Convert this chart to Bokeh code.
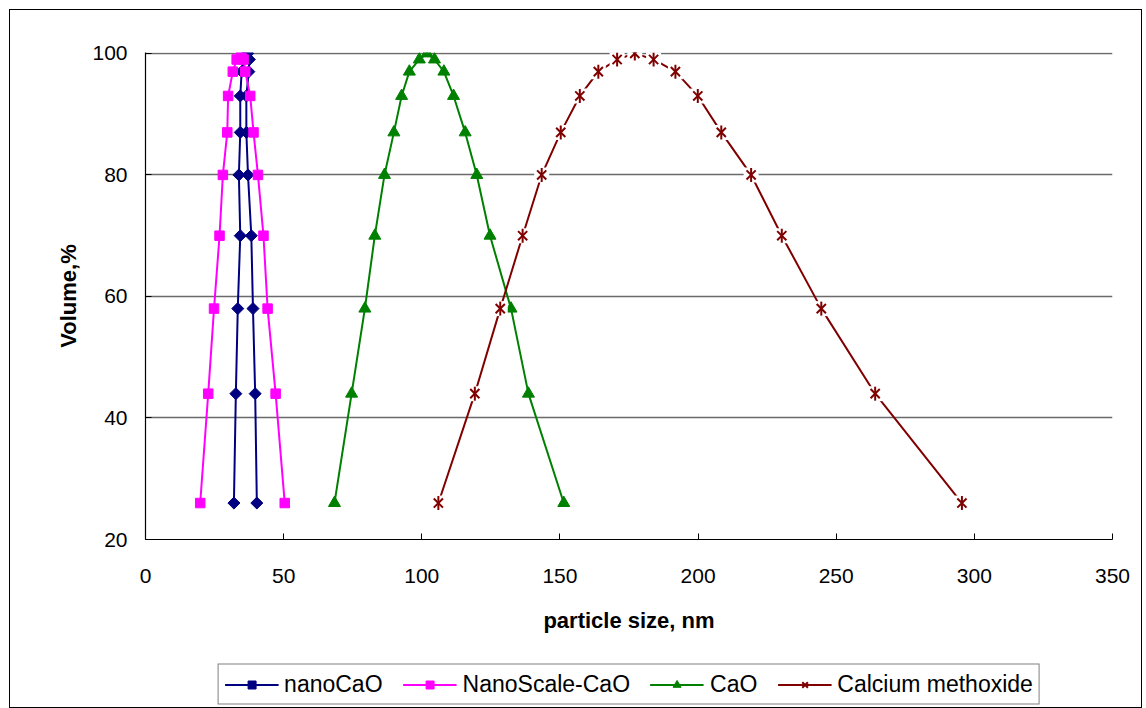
import math
from bokeh.plotting import figure
from bokeh.layouts import column
from bokeh.models import Legend, LegendItem, FixedTicker, Range1d
from bokeh.embed import file_html
from bokeh.resources import INLINE

# ---------------- data ----------------
volume_levels = [26, 44, 58, 70, 80, 87, 93, 97, 99, 100, 99, 97, 93, 87, 80, 70, 58, 44, 26]

nanocao_size = [32.0, 32.7, 33.4, 34.3, 33.8, 34.3, 34.3, 34.8, 35.5, 37.0,
                37.6, 37.4, 36.5, 36.5, 37.1, 38.3, 38.9, 39.7, 40.3]
nanocao_volume = list(volume_levels)

nanoscale_size = [19.8, 22.7, 24.8, 26.8, 28.0, 29.6, 29.9, 31.6, 33.0, 34.7,
                  35.5, 36.1, 37.9, 39.1, 40.7, 42.7, 44.2, 47.1, 50.4]
nanoscale_volume = list(volume_levels)

cao_size = [68.4, 74.6, 79.4, 83.0, 86.5, 89.9, 92.7, 95.5, 99.1, 101.9,
            104.6, 108.0, 111.5, 115.7, 119.9, 124.7, 132.3, 138.6, 151.4]
cao_volume = list(volume_levels)

methoxide_size = [106.0, 119.2, 128.4, 136.5, 143.4, 150.3, 157.2, 163.9, 170.7, 177.1,
                  183.9, 191.8, 199.9, 208.4, 219.2, 230.3, 244.6, 264.1, 295.5]
methoxide_volume = list(volume_levels)

x_ticks = [0, 50, 100, 150, 200, 250, 300, 350]
y_ticks = [20, 40, 60, 80, 100]

series_names = ["nanoCaO", "NanoScale-CaO", "CaO", "Calcium methoxide"]
series_colors = ["#000080", "#FF00FF", "#008000", "#800000"]

FONT = "Liberation Sans"

# ---------------- main chart ----------------
p = figure(width=1131, height=651,
           x_range=Range1d(0, 350), y_range=Range1d(20, 100.15),
           output_backend="svg", toolbar_location=None,
           min_border_left=107, min_border_right=29,
           min_border_top=42, min_border_bottom=122)

p.outline_line_color = None
p.background_fill_color = "white"
p.border_fill_color = "white"

for ax, ticks in ((p.xaxis, x_ticks), (p.yaxis, y_ticks)):
    ax.ticker = FixedTicker(ticks=ticks)
    ax.minor_tick_line_color = None
    ax.major_tick_in = 6
    ax.major_tick_out = 0
    ax.axis_line_color = "black"
    ax.axis_line_width = 1.2
    ax.major_tick_line_color = "black"
    ax.major_label_text_font = FONT
    ax.major_label_text_font_size = "21px"
    ax.major_label_text_color = "black"
    ax.axis_label_text_font = FONT
    ax.axis_label_text_font_size = "22px"
    ax.axis_label_text_font_style = "bold"
    ax.axis_label_text_color = "black"

p.xaxis.axis_label = "particle size, nm"
p.yaxis.axis_label = "Volume,%"
p.xaxis.major_label_standoff = 29
p.xaxis.axis_label_standoff = 22
p.yaxis.major_label_standoff = 18
p.yaxis.axis_label_standoff = 8

p.xgrid.visible = False
p.ygrid.grid_line_color = "#6a6a6a"
p.ygrid.grid_line_width = 1.3


def draw_series(fig, xs, ys, idx):
    c = series_colors[idx]
    rs = [fig.line(xs, ys, line_color=c, line_width=2)]
    if idx == 0:
        rs.append(fig.scatter(xs, ys, marker="square", angle=math.pi / 4, size=8.5,
                              fill_color=c, line_color=c))
    elif idx == 1:
        rs.append(fig.scatter(xs, ys, marker="square", size=9.5, fill_color=c, line_color=c))
    elif idx == 2:
        rs.append(fig.scatter(xs, ys, marker="triangle", size=12, fill_color=c, line_color=c))
    else:
        rs.append(fig.scatter(xs, ys, marker="square", size=15, fill_color="white",
                              line_color=None))
        rs.append(fig.scatter(xs, ys, marker="x", size=13, line_color=c, line_width=2))
        rs.append(fig.scatter(xs, ys, marker="dash", angle=math.pi / 2, size=14,
                              line_color=c, line_width=2))
    return rs


series_data = [
    (nanocao_size, nanocao_volume),
    (nanoscale_size, nanoscale_volume),
    (cao_size, cao_volume),
    (methoxide_size, methoxide_volume),
]
for i, (xs, ys) in enumerate(series_data):
    draw_series(p, xs, ys, i)

# ---------------- legend strip ----------------
# the same series are drawn here outside the visible range, only to supply legend glyphs
pl = figure(width=1131, height=46, output_backend="svg", toolbar_location=None,
            x_range=Range1d(1000, 1001), y_range=Range1d(1000, 1001),
            x_axis_location=None, y_axis_location=None,
            min_border_left=135, min_border_right=19, min_border_top=0, min_border_bottom=0)
pl.outline_line_color = None
pl.grid.visible = False
pl.background_fill_color = "white"
pl.border_fill_color = "white"

items = []
for i, (name, (xs, ys)) in enumerate(zip(series_names, series_data)):
    items.append(LegendItem(label=name, renderers=draw_series(pl, xs, ys, i)))

legend = Legend(items=items, orientation="horizontal", location="center",
                glyph_width=54, glyph_height=20, label_standoff=6, spacing=20, padding=6,
                border_line_color="black", border_line_width=1,
                label_text_font=FONT, label_text_font_size="23px", label_text_color="black",
                background_fill_color="white", margin=0)
pl.add_layout(legend)

layout = column(p, pl, spacing=0, margin=(9, 0, 0, 9),
                styles={"border": "1px solid black"})

open("out.html", "w").write(file_html(layout, INLINE))
